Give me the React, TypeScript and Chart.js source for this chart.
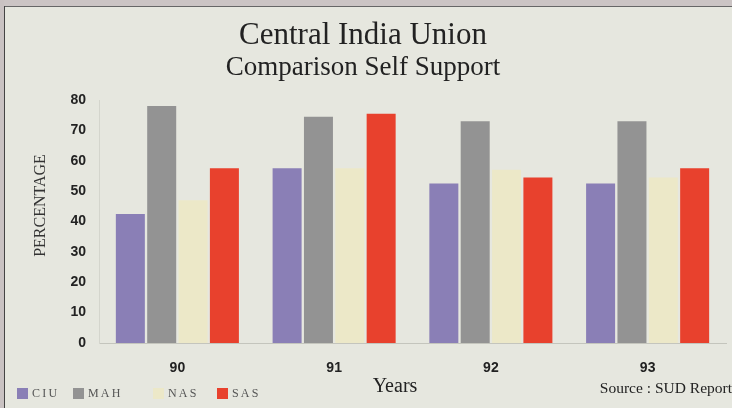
import React, { useEffect, useRef } from "react";
import { Chart, registerables } from "chart.js";

Chart.register(...registerables);

const years = ["90", "91", "92", "93"];
const seriesNames = ["CIU", "MAH", "NAS", "SAS"];
const ciu = [42.5, 57.5, 52.5, 52.5];
const mah = [78, 74.5, 73, 73];
const nas = [47, 57.5, 57, 54.5];
const sas = [57.5, 75.5, 54.5, 57.5];
const colors = ["#8a7fb6", "#939393", "#ece8c8", "#e8412d"];
const yTicks = [0, 10, 20, 30, 40, 50, 60, 70, 80];
const legendLeft = [17, 73, 153, 217];

const serif = "'Liberation Serif', 'Times New Roman', serif";
const sans = "'Liberation Sans', Arial, sans-serif";

export default function App() {
  const ref = useRef<HTMLCanvasElement | null>(null);

  useEffect(() => {
    document.body.style.margin = "0";
    const ctx = ref.current;
    if (!ctx) return;
    const values = [ciu, mah, nas, sas];
    const chart = new Chart(ctx, {
      type: "bar",
      data: {
        labels: years,
        datasets: seriesNames.map((n, i) => ({
          label: n,
          data: values[i],
          backgroundColor: colors[i],
          borderWidth: 0,
          categoryPercentage: 0.8,
          barPercentage: 0.925,
        })),
      },
      options: {
        animation: false,
        responsive: false,
        maintainAspectRatio: false,
        layout: { padding: { left: 0, right: 6, top: 0, bottom: 0 } },
        plugins: {
          legend: { display: false },
          tooltip: { enabled: false },
          title: {
            display: true,
            text: "Central India Union",
            color: "#222",
            font: { family: serif, size: 31, weight: "normal", lineHeight: 1 },
            padding: { top: 20, bottom: 2 },
          },
          subtitle: {
            display: true,
            text: "Comparison Self Support",
            color: "#222",
            font: { family: serif, size: 27, weight: "normal", lineHeight: 1 },
            padding: { top: 1, bottom: 19 },
          },
        },
        scales: {
          x: {
            grid: { display: false, drawTicks: false },
            border: { display: true, color: "#c4c5bd", width: 1 },
            ticks: {
              color: "#222",
              padding: 17,
              font: { family: sans, size: 14, weight: "bold" },
            },
            title: {
              display: true,
              text: "Years       ",
              color: "#222",
              font: { family: serif, size: 20, weight: "normal" },
              padding: { top: 0, bottom: 9 },
            },
            afterFit: (s: any) => {
              s.height = 65;
            },
          },
          y: {
            min: 0,
            max: 80,
            afterBuildTicks: (s: any) => {
              s.ticks = yTicks.map((v) => ({ value: v }));
            },
            grid: { display: false, drawTicks: false },
            border: { display: true, color: "#d4d5cd", width: 1 },
            ticks: {
              color: "#222",
              padding: 13,
              font: { family: sans, size: 14, weight: "bold" },
            },
            title: {
              display: true,
              text: "        PERCENTAGE",
              color: "#333",
              font: { family: serif, size: 16, weight: "normal" },
              padding: { top: 31, bottom: 0 },
            },
            afterFit: (s: any) => {
              s.width = 99;
            },
          },
        },
      },
    });
    return () => chart.destroy();
  }, []);

  return (
    <div
      style={{
        position: "fixed",
        left: 0,
        top: 0,
        width: 732,
        height: 408,
        background: "#e6e7df",
        overflow: "hidden",
      }}
    >
      <canvas ref={ref} width={732} height={408} style={{ position: "absolute", left: 0, top: 0 }} />
      <div style={{ position: "absolute", left: 0, top: 0, width: 732, height: 6, background: "#cbc4c4" }} />
      <div style={{ position: "absolute", left: 0, top: 6, width: 732, height: 1, background: "#666" }} />
      <div style={{ position: "absolute", left: 0, top: 0, width: 4, height: 408, background: "#c9c2c2" }} />
      <div style={{ position: "absolute", left: 4, top: 6, width: 1, height: 402, background: "#444" }} />
      {seriesNames.map((n, i) => (
        <div
          key={n}
          style={{
            position: "absolute",
            left: legendLeft[i],
            top: 386,
            display: "flex",
            alignItems: "center",
            fontFamily: serif,
            fontSize: 12,
            color: "#555",
            letterSpacing: 2.2,
            whiteSpace: "nowrap",
          }}
        >
          <span style={{ display: "inline-block", width: 11, height: 11, background: colors[i], marginRight: 4 }} />
          <span>{n}</span>
        </div>
      ))}
      <div
        style={{
          position: "absolute",
          right: 0,
          top: 379,
          fontFamily: serif,
          fontSize: 15.5,
          color: "#222",
          whiteSpace: "nowrap",
        }}
      >
        Source : SUD Report
      </div>
    </div>
  );
}
